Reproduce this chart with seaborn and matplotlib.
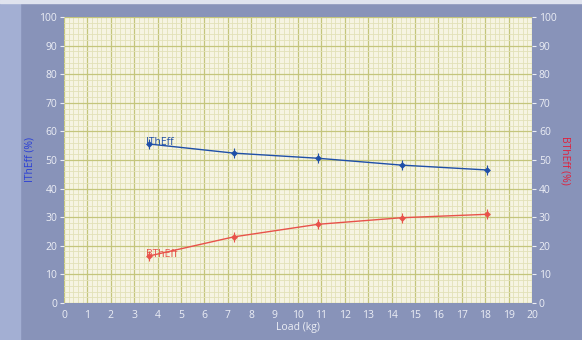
import numpy as np
import pandas as pd
import matplotlib
matplotlib.use("Agg")
import matplotlib.pyplot as plt
from matplotlib.ticker import MultipleLocator
import seaborn as sns

load = [3.62, 7.25, 10.85, 14.43, 18.08]
ith_eff = [55.6, 52.4, 50.6, 48.2, 46.5]
bth_eff = [16.4, 23.1, 27.5, 29.8, 31.0]

df = pd.DataFrame({"Load": load, "IThEff": ith_eff, "BThEff": bth_eff})

sns.set_style("white")
plt.rcParams['font.family'] = ['Open Sans', 'DejaVu Sans']

bg = "#8893b9"
fig = plt.figure(figsize=(5.82, 3.4), dpi=100, facecolor=bg)
# lighter strip down the left side and a thin light line on top
fig.patches.append(plt.Rectangle((0, 0), 0.035, 1, transform=fig.transFigure,
                                 color="#a3afd3", zorder=0))
fig.patches.append(plt.Rectangle((0, 0.99), 1, 0.01, transform=fig.transFigure,
                                 color="#dfe3ee", zorder=0))
ax = fig.add_axes([0.110, 0.109, 0.804, 0.841])
ax.set_facecolor("#f6f4e2")

blue = "#1f4fa8"
red = "#e8524a"
sns.lineplot(data=df, x="Load", y="IThEff", ax=ax, color=blue, lw=1,
             marker="D", markersize=3.5, markeredgewidth=0)
sns.lineplot(data=df, x="Load", y="BThEff", ax=ax, color=red, lw=1,
             marker="D", markersize=3.5, markeredgewidth=0)
ax.plot(df["Load"], df["IThEff"], ls="none", marker="|", ms=7, color=blue, mew=0.8)
ax.plot(df["Load"], df["BThEff"], ls="none", marker="|", ms=7, color=red, mew=0.8)

ax.text(load[0] - 0.1, ith_eff[0] + 0.6, "IThEff", color=blue, fontsize=7.5, va="center")
ax.text(load[0] - 0.1, bth_eff[0] + 0.6, "BThEff", color=red, fontsize=7.5, va="center")

ax.set_xlim(0, 20)
ax.set_ylim(0, 100)
ax.xaxis.set_major_locator(MultipleLocator(1))
ax.xaxis.set_minor_locator(MultipleLocator(0.2))
ax.yaxis.set_major_locator(MultipleLocator(10))
ax.yaxis.set_minor_locator(MultipleLocator(2))
ax.grid(which="minor", color="#e2e1b8", lw=0.6)
ax.grid(which="major", color="#c4c57c", lw=0.9)
ax.set_axisbelow(True)
for s in ax.spines.values():
    s.set_visible(False)

tc = "#eceef5"
ax.tick_params(which="major", direction="out", length=3, color=tc, labelcolor=tc,
               labelsize=7.5, pad=2)
ax.tick_params(which="minor", length=0)
ax.set_xlabel("Load (kg)", color=tc, fontsize=7.5, labelpad=1)
ax.set_ylabel("IThEff (%)", color="#2a3fd6", fontsize=7.5, labelpad=3)

ax2 = ax.twinx()
ax2.set_ylim(0, 100)
ax2.yaxis.set_major_locator(MultipleLocator(10))
for s in ax2.spines.values():
    s.set_visible(False)
ax2.tick_params(direction="out", length=3, color=tc, labelcolor=tc, labelsize=7.5, pad=2)
ax2.set_ylabel("BThEff (%)", color="#e0203c", fontsize=7.5, rotation=270, labelpad=10)

fig.savefig("out.png", dpi=100, facecolor=bg)
